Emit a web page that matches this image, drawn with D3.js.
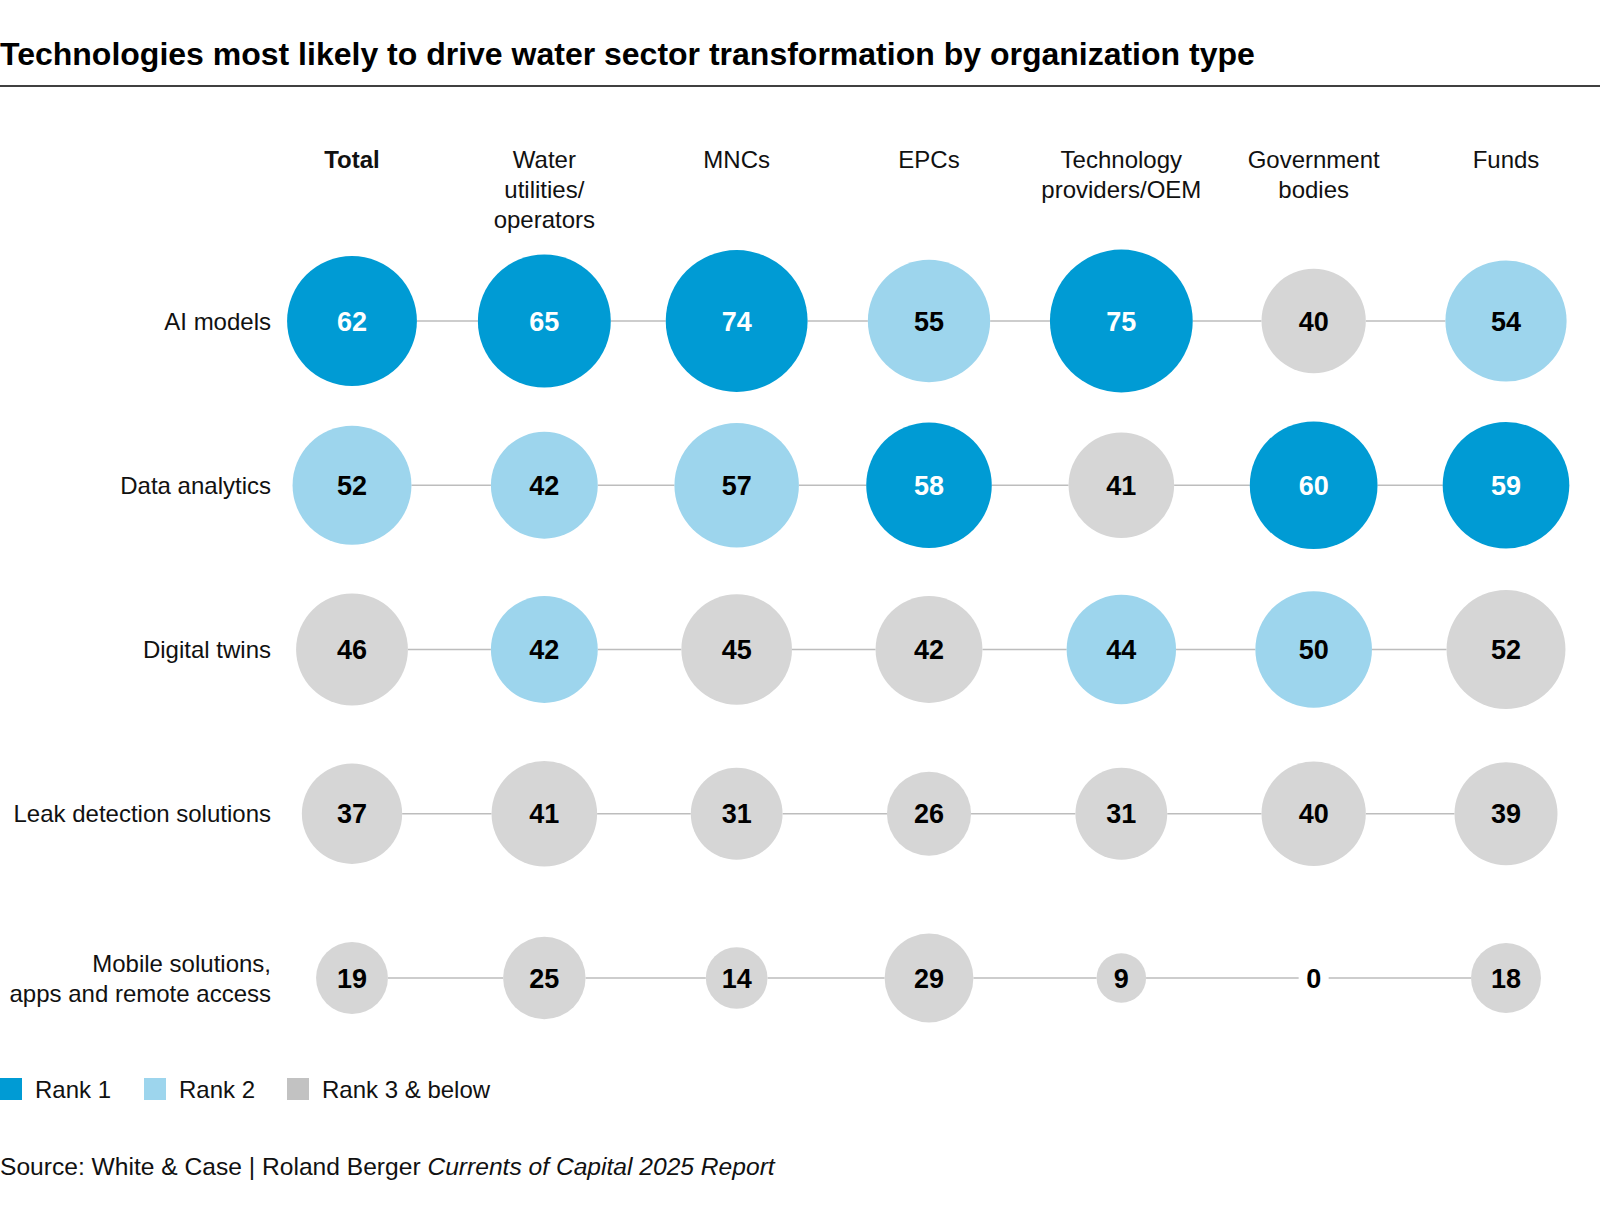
<!DOCTYPE html>
<html>
<head>
<meta charset="utf-8">
<script src="https://cdn.jsdelivr.net/npm/d3@7"></script>
<style>
  body { margin: 0; background: #fff; }
  svg { display: block; font-family: "Liberation Sans", Arial, sans-serif; }
</style>
</head>
<body>
<div id="chart"></div>
<script>
const title = "Technologies most likely to drive water sector transformation by organization type";

const groups = [
  ["Total"],
  ["Water", "utilities/", "operators"],
  ["MNCs"],
  ["EPCs"],
  ["Technology", "providers/OEM"],
  ["Government", "bodies"],
  ["Funds"]
];

const technologies = [
  ["AI models"],
  ["Data analytics"],
  ["Digital twins"],
  ["Leak detection solutions"],
  ["Mobile solutions,", "apps and remote access"]
];

// share of respondents (%), one array per technology, in group order
const aiModels      = [62, 65, 74, 55, 75, 40, 54];
const dataAnalytics = [52, 42, 57, 58, 41, 60, 59];
const digitalTwins  = [46, 42, 45, 42, 44, 50, 52];
const leakDetection = [37, 41, 31, 26, 31, 40, 39];
const mobileApps    = [19, 25, 14, 29, 9, 0, 18];

// rank within each group column (1, 2, 3 = "3 & below")
const aiRanks       = [1, 1, 1, 2, 1, 3, 2];
const dataRanks     = [2, 2, 2, 1, 3, 1, 1];
const twinRanks     = [3, 2, 3, 3, 2, 2, 3];
const leakRanks     = [3, 3, 3, 3, 3, 3, 3];
const mobileRanks   = [3, 3, 3, 3, 3, 3, 3];

const legendLabels = ["Rank 1", "Rank 2", "Rank 3 & below"];

const width = 1600;
const height = 1220;

const values = [aiModels, dataAnalytics, digitalTwins, leakDetection, mobileApps];
const ranks = [aiRanks, dataRanks, twinRanks, leakRanks, mobileRanks];

const rankFill = d3.scaleOrdinal().domain([1, 2, 3]).range(["#009bd4", "#9dd5ed", "#d6d6d6"]);
const legendFill = d3.scaleOrdinal().domain([1, 2, 3]).range(["#009bd4", "#9dd5ed", "#c2c2c2"]);

const x = d3.scalePoint()
  .domain(d3.range(groups.length))
  .range([352, 1506]);

const y = d3.scalePoint()
  .domain(d3.range(technologies.length))
  .range([321, 978]);

const r = d3.scaleSqrt()
  .domain([0, 75])
  .range([0, 71.4]);

const svg = d3.select("#chart")
  .append("svg")
  .attr("width", width)
  .attr("height", height);

// title + rule
svg.append("text")
  .attr("x", 0)
  .attr("y", 65)
  .attr("font-size", 32)
  .attr("font-weight", "bold")
  .attr("fill", "#000")
  .text(title);

svg.append("line")
  .attr("x1", 0).attr("x2", width)
  .attr("y1", 86).attr("y2", 86)
  .attr("stroke", "#000")
  .attr("stroke-width", 1.5);

// column headers
const header = svg.append("g").attr("class", "headers");
groups.forEach((lines, i) => {
  const t = header.append("text")
    .attr("text-anchor", "middle")
    .attr("font-size", 24)
    .attr("font-weight", i === 0 ? "bold" : "normal")
    .attr("fill", "#111");
  lines.forEach((line, j) => {
    t.append("tspan")
      .attr("x", x(i))
      .attr("y", 168 + j * 30)
      .text(line);
  });
});

// rows
const cells = [];
values.forEach((row, ri) => {
  row.forEach((v, ci) => cells.push({ row: ri, col: ci, value: v, rank: ranks[ri][ci] }));
});

const rows = svg.append("g").attr("class", "rows");

technologies.forEach((lines, ri) => {
  const rowY = y(ri);
  const rowCells = cells.filter(d => d.row === ri);

  // connectors between neighbouring bubbles
  rows.append("g")
    .selectAll("line")
    .data(d3.pairs(rowCells))
    .join("line")
      .attr("x1", ([a]) => x(a.col) + Math.max(r(a.value), 15))
      .attr("x2", ([, b]) => x(b.col) - Math.max(r(b.value), 15))
      .attr("y1", rowY)
      .attr("y2", rowY)
      .attr("stroke", "#bdbdbd")
      .attr("stroke-width", 1.3);

  // row label
  const lbl = rows.append("text")
    .attr("text-anchor", "end")
    .attr("font-size", 24)
    .attr("fill", "#111");
  lines.forEach((line, j) => {
    lbl.append("tspan")
      .attr("x", 271)
      .attr("y", rowY + 8.5 + (j - (lines.length - 1) / 2) * 30)
      .text(line);
  });
});

const bubbles = svg.append("g")
  .attr("class", "bubbles")
  .selectAll("g")
  .data(cells)
  .join("g")
    .attr("transform", d => `translate(${x(d.col)},${y(d.row)})`);

bubbles.append("circle")
  .attr("r", d => r(d.value))
  .attr("fill", d => rankFill(d.rank));

bubbles.append("text")
  .attr("text-anchor", "middle")
  .attr("dy", "0.36em")
  .attr("font-size", 27)
  .attr("font-weight", "bold")
  .attr("fill", d => d.rank === 1 ? "#fff" : "#000")
  .text(d => d.value);

// legend
const legend = svg.append("g")
  .attr("class", "legend")
  .selectAll("g")
  .data(legendLabels)
  .join("g")
    .attr("transform", (d, i) => `translate(${[0, 144, 287][i]},1089)`);

legend.append("rect")
  .attr("x", 0)
  .attr("y", -11)
  .attr("width", 22)
  .attr("height", 22)
  .attr("fill", (d, i) => legendFill(i + 1));

legend.append("text")
  .attr("x", 35)
  .attr("dy", "0.36em")
  .attr("font-size", 24)
  .attr("fill", "#111")
  .text(d => d);

// source
const src = svg.append("text")
  .attr("x", 0)
  .attr("y", 1175)
  .attr("font-size", 24.6)
  .attr("fill", "#111");
src.append("tspan").text("Source: White & Case | Roland Berger ");
src.append("tspan").attr("font-style", "italic").text("Currents of Capital 2025 Report");
</script>
</body>
</html>
